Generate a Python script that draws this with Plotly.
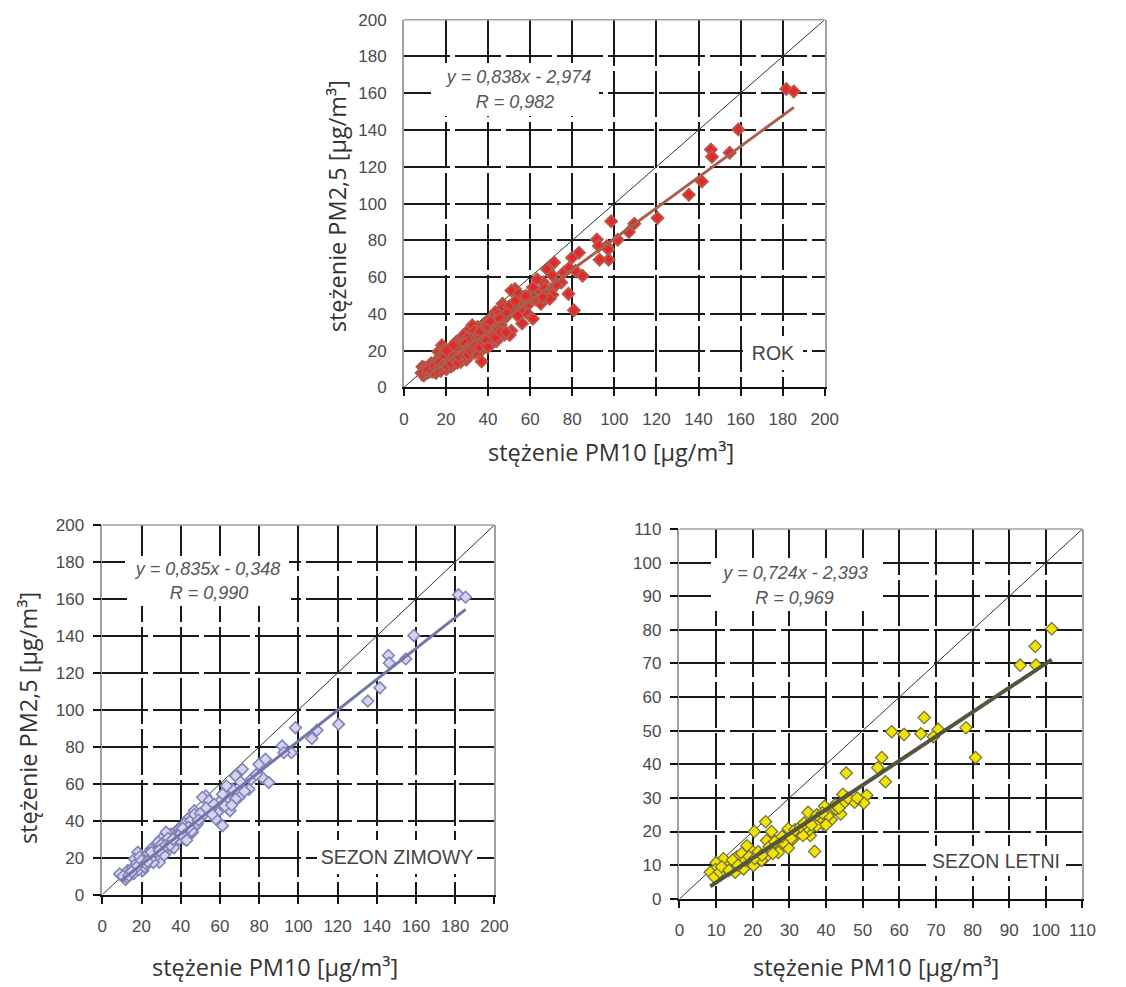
import plotly.graph_objects as go

# ---------------- data ----------------
winter_pm10 = [181.7, 185.3, 158.9, 145.9, 146.4, 154.8, 141.6, 135.4, 120.5, 109.5,
               106.9, 98.5, 96.4, 91.7, 92.6, 79.9, 83.2, 81.6, 84.9, 74.8,
               71.4, 68.0, 69.7, 66.3, 65.1, 63.3, 61.3, 61.3, 58.7, 57.9,
               52.8, 51.1, 54.5, 49.4, 46.9, 43.5, 46.0, 41.8, 39.3, 35.0,
               32.5, 29.9, 29.1, 32.5, 27.4, 24.9, 22.3, 19.8, 18.1, 16.4,
               13.0, 14.7, 8.8, 11.8, 17.3, 20.6, 24.0, 26.6, 30.8, 34.2,
               37.6, 42.6, 44.3, 47.7, 51.1, 55.3, 59.6, 64.6, 68.0,
               12.5, 14.0, 15.5, 16.0, 17.5, 18.5, 19.0, 21.0, 21.5, 22.5,
               23.5, 25.5, 26.0, 27.0, 28.0, 28.5, 29.5, 31.0, 31.5, 33.0,
               33.5, 35.5, 36.5, 38.0, 39.0, 40.5, 42.0, 43.0, 45.0, 45.5,
               47.0, 48.5, 50.0, 53.0, 56.0, 57.0, 62.5, 66.0, 70.5, 72.5,
               76.0, 78.5,
               10.5, 13.5, 15.0, 18.0, 20.0, 22.0, 24.5, 27.5, 30.0, 32.0,
               34.5, 37.0, 40.0, 44.0, 49.0, 25.0, 29.0, 36.0, 41.0, 23.0]
winter_pm25 = [162.3, 161.0, 140.3, 129.4, 125.4, 127.6, 112.0, 104.8, 92.2, 89.0,
               84.5, 90.4, 76.9, 80.5, 76.9, 70.6, 73.3, 63.4, 60.7, 57.1,
               67.9, 64.3, 52.7, 57.1, 45.5, 58.9, 54.4, 37.4, 44.6, 41.0,
               53.5, 52.7, 50.9, 41.0, 45.5, 41.0, 33.8, 30.2, 35.6, 32.9,
               33.8, 30.2, 17.6, 23.0, 26.6, 24.8, 21.2, 16.7, 23.0, 19.4,
               13.1, 11.3, 11.3, 8.3, 14.9, 13.1, 17.6, 20.3, 24.8, 28.4,
               29.3, 32.0, 36.5, 37.4, 42.8, 46.4, 50.0, 51.8, 51.8,
               9.5, 12.0, 14.5, 11.5, 17.0, 13.5, 20.5, 17.5, 15.0, 19.0,
               22.5, 21.0, 17.5, 24.0, 21.5, 28.5, 25.5, 28.0, 21.5, 26.0,
               30.5, 28.0, 25.5, 32.0, 30.0, 35.0, 38.5, 29.5, 40.0, 34.5,
               43.5, 38.5, 44.0, 47.0, 43.5, 49.0, 48.0, 48.5, 61.0, 56.0,
               62.5, 65.0,
               10.0, 10.5, 12.5, 15.5, 18.5, 17.0, 19.5, 23.5, 27.0, 26.5,
               27.0, 31.0, 33.0, 36.5, 40.5, 23.0, 24.0, 30.0, 36.0, 18.0]

summer_pm10 = [101.6, 97.1, 97.3, 93.0, 80.8, 78.2, 70.6, 69.3, 66.8, 65.9,
               61.3, 57.9, 56.2, 55.2, 54.1, 51.1, 50.3, 47.8, 45.5, 44.6,
               44.6, 44.0, 41.4, 41.9, 39.6, 39.2, 38.4, 36.9, 35.7, 35.4,
               35.1, 34.6, 32.8, 31.9, 29.7, 29.7, 29.7, 27.0, 27.0, 25.1,
               23.8, 23.5, 23.6, 22.0, 20.4, 19.3, 18.4, 18.4, 16.6, 15.6,
               15.2, 12.9, 12.0, 10.0, 9.8, 8.4, 14.3, 17.5, 20.2, 22.4,
               28.3, 31.0, 33.7, 37.4, 40.5, 42.7,
               9.5, 11.0, 11.5, 13.5, 14.5, 16.0, 17.0, 18.0, 19.0, 20.5,
               21.5, 22.5, 24.5, 25.5, 26.0, 28.0, 30.5, 31.5, 33.0, 34.0,
               36.0, 37.5, 39.0, 40.0, 42.5, 43.5, 46.0, 48.5]
summer_pm25 = [80.3, 75.1, 69.5, 69.5, 42.0, 50.9, 50.4, 48.2, 53.9, 49.1,
               48.9, 49.7, 34.8, 42.0, 39.0, 30.8, 28.5, 28.7, 37.4, 31.1,
               28.2, 25.2, 23.5, 26.7, 27.5, 22.2, 24.2, 14.1, 18.8, 20.5,
               25.7, 21.2, 19.8, 18.8, 20.8, 17.3, 15.1, 15.6, 13.8, 20.0,
               17.3, 22.9, 12.4, 11.7, 20.0, 14.8, 15.8, 10.4, 12.8, 12.4,
               7.9, 10.4, 11.9, 10.7, 8.7, 7.9, 9.4, 8.9, 9.9, 11.4,
               16.8, 17.8, 18.8, 21.7, 24.7, 26.7,
               6.5, 8.0, 9.5, 8.5, 11.5, 10.0, 13.5, 11.5, 12.5, 12.0,
               14.0, 13.0, 15.5, 13.5, 17.0, 18.5, 18.0, 20.5, 21.5, 22.5,
               22.0, 25.0, 25.5, 22.0, 28.0, 27.0, 30.0, 30.0]

# whole year = winter + summer
year_pm10 = winter_pm10 + summer_pm10
year_pm25 = winter_pm25 + summer_pm25

# regression: slope, intercept, x-range of the fitted line
fit_year = (0.838, -2.974, 8.0, 185.3)
fit_winter = (0.835, -0.348, 9.5, 185.3)
fit_summer = (0.724, -2.393, 8.4, 101.6)

eq_year = ["y = 0,838x - 2,974", "R = 0,982"]
eq_winter = ["y = 0,835x - 0,348", "R = 0,990"]
eq_summer = ["y = 0,724x - 2,393", "R = 0,969"]

ticks_200 = [0, 20, 40, 60, 80, 100, 120, 140, 160, 180, 200]
ticks_110 = [0, 10, 20, 30, 40, 50, 60, 70, 80, 90, 100, 110]

x_title = "stężenie PM10 [µg/m³]"
y_title = "stężenie PM2,5 [µg/m³]"

# ---------------- figure ----------------
W, H = 1126, 987
# measured page placement of the figure in the screenshot
AX, BX = 0.988, 9.2
AY, BY = 0.984, 15.3


def fx(s):
    return (s - BX) / AX


def fy(s):
    return (s - BY) / AY


def dx(a, b):
    return [fx(a) / W, fx(b) / W]


def dy(top, bottom):
    return [1 - fy(bottom) / H, 1 - fy(top) / H]


fig = go.Figure()

panels = [
    dict(xa="x", ya="y", xd=dx(402, 825), yd=dy(18, 387), rng=200, ticks=ticks_200,
         xs=year_pm10, ys=year_pm25, fit=fit_year,
         marker=dict(symbol="diamond", size=9, color="#e8262a", line=dict(color="#b4584a", width=2)),
         lc="#a85f4d", lw=3),
    dict(xa="x2", ya="y2", xd=dx(99, 493), yd=dy(525, 896), rng=200, ticks=ticks_200,
         xs=winter_pm10, ys=winter_pm25, fit=fit_winter,
         marker=dict(symbol="diamond", size=9, color="#d4d4f0", line=dict(color="#8282b8", width=1.6)),
         lc="#7474a8", lw=3),
    dict(xa="x3", ya="y3", xd=dx(679, 1084), yd=dy(529, 900), rng=110, ticks=ticks_110,
         xs=summer_pm10, ys=summer_pm25, fit=fit_summer,
         marker=dict(symbol="diamond", size=9.5, color="#f2e400", line=dict(color="#6e6e3a", width=1.2)),
         lc="#55553f", lw=4),
]

for p in panels:
    r = p["rng"]
    fig.add_trace(go.Scatter(x=[0, r], y=[0, r], mode="lines", xaxis=p["xa"], yaxis=p["ya"],
                             line=dict(color="#333333", width=1), showlegend=False, hoverinfo="skip"))
    fig.add_trace(go.Scatter(x=p["xs"], y=p["ys"], mode="markers", xaxis=p["xa"], yaxis=p["ya"],
                             marker=p["marker"], showlegend=False))
    a, b, x0, x1 = p["fit"]
    fig.add_trace(go.Scatter(x=[x0, x1], y=[a * x0 + b, a * x1 + b], mode="lines",
                             xaxis=p["xa"], yaxis=p["ya"],
                             line=dict(color=p["lc"], width=p["lw"]), showlegend=False))

tickfont = dict(family="Liberation Sans", size=17, color="#4a4a4a")
gridkw = dict(showgrid=True, gridcolor="#1a1a1a", gridwidth=2, griddash="46px,5px", zeroline=False)

for i, p in enumerate(panels):
    sfx = "" if i == 0 else str(i + 1)
    r = p["rng"]
    fig.layout["xaxis" + sfx] = dict(
        domain=p["xd"], range=[0, r], tickvals=p["ticks"], anchor="y" + sfx,
        showline=True, linecolor="#111111", linewidth=2, mirror=False,
        ticks="outside", ticklen=7, tickwidth=2, tickcolor="#111111",
        tickfont=tickfont, ticklabelstandoff=8, fixedrange=True, **gridkw)
    fig.layout["yaxis" + sfx] = dict(
        domain=p["yd"], range=[0, r], tickvals=p["ticks"], anchor="x" + sfx,
        showline=True, linecolor="#a0a0a0", linewidth=1.5, mirror=True,
        ticks="" if i == 0 else "outside", ticklen=8, tickwidth=2, tickcolor="#111111",
        tickfont=tickfont, ticklabelstandoff=12 if i == 0 else 5, fixedrange=True, **gridkw)

eqfont = dict(family="Liberation Sans", size=18, color="#555555")
labfont = dict(family="Liberation Sans", size=19.5, color="#444444")


def box_text(text, xa, ya, x, y, w, h, font, italic=False):
    t = f"<i>{text}</i>" if italic else text
    fig.add_annotation(text=t, xref=xa, yref=ya, x=x, y=y, showarrow=False,
                       width=w, height=h, bgcolor="white", borderpad=0, borderwidth=0,
                       font=font, align="center", valign="middle")


# equations (data units)
box_text(eq_year[0], "x", "y", 54.0, 169.0, 168, 28, eqfont, True)
box_text(eq_year[1], "x", "y", 53.0, 155.0, 168, 28, eqfont, True)
box_text(eq_winter[0], "x2", "y2", 53.5, 176.0, 164, 26, eqfont, True)
box_text(eq_winter[1], "x2", "y2", 54.5, 163.0, 164, 26, eqfont, True)
box_text(eq_summer[0], "x3", "y3", 31.5, 97.0, 167, 30, eqfont, True)
box_text(eq_summer[1], "x3", "y3", 31.5, 89.5, 167, 26, eqfont, True)

# season labels
box_text("ROK", "x", "y", 175.5, 19.0, 60, 34, labfont)
box_text("SEZON ZIMOWY", "x2", "y2", 150.5, 20.5, 160, 34, labfont)
box_text("SEZON LETNI", "x3", "y3", 86.4, 11.3, 140, 30, labfont)

for xa, ya in [("x", "y"), ("x2", "y2"), ("x3", "y3")]:
    fig.add_shape(type="line", xref=f"{xa} domain", yref=f"{ya} domain", x0=0, x1=1, y0=1, y1=1,
                  line=dict(color="#a0a0a0", width=1.5), layer="above")

titlefont = dict(family="Open Sans", size=23.5, color="#333333")


def title(text, sx, sy, angle=0):
    fig.add_annotation(text=text, xref="paper", yref="paper",
                       x=fx(sx) / W, y=1 - fy(sy) / H,
                       showarrow=False, textangle=angle, font=titlefont,
                       xanchor="center", yanchor="middle")


title(x_title, 610, 452)
title(y_title, 335, 205, -90)
title(x_title, 272, 968)
title(y_title, 25, 719, -90)
title(x_title, 876, 968)

fig.update_layout(width=W, height=H, margin=dict(l=0, r=0, t=0, b=0),
                  paper_bgcolor="white", plot_bgcolor="white", showlegend=False)

fig.write_html("out.html")
